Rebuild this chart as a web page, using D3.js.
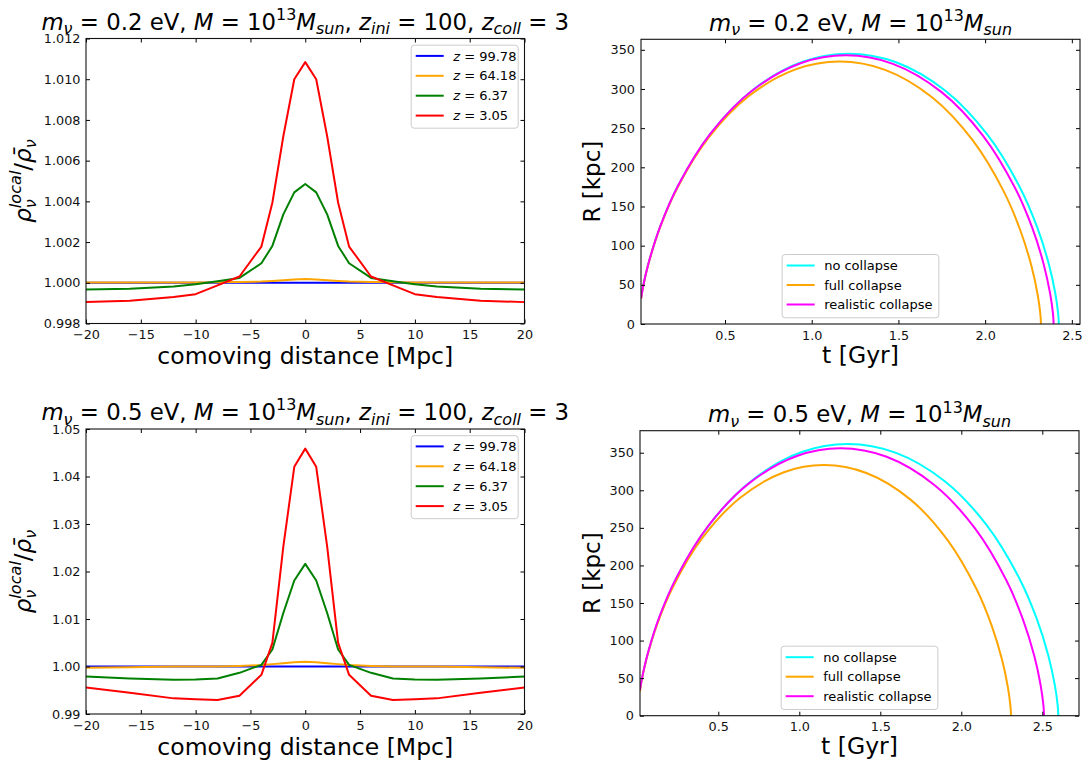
<!DOCTYPE html>
<html>
<head>
<meta charset="utf-8">
<script src="https://cdn.jsdelivr.net/npm/d3@7"></script>
<style>
  body { margin: 0; background: #fff; }
  svg text { white-space: pre; }
</style>
</head>
<body>
<svg id="fig" width="1083" height="760"></svg>
<script>
// ---- data: neutrino overdensity profiles ----
var distX = [-20, -16, -12, -10, -8, -6, -4, -3, -2, -1, 0, 1, 2, 3, 4, 6, 8, 10, 12, 16, 20];
var zLabels = ['99.78', '64.18', '6.37', '3.05'];

// m_nu = 0.2 eV
var rho02_z9978 = [1, 1, 1, 1, 1, 1, 1, 1, 1, 1, 1, 1, 1, 1, 1, 1, 1, 1, 1, 1, 1];
var rho02_z6418 = [1.00001, 1.00001, 1.00002, 1.00002, 1.00003, 1.00004, 1.00006, 1.00009, 1.00012, 1.00016, 1.00019,
                   1.00016, 1.00012, 1.00009, 1.00006, 1.00004, 1.00003, 1.00002, 1.00002, 1.00001, 1.00001];
var rho02_z637 = [0.99967, 0.99971, 0.99982, 0.99993, 1.00008, 1.00024, 1.00096, 1.00181, 1.00336, 1.00444, 1.00485,
                  1.00444, 1.00336, 1.00181, 1.00096, 1.00024, 1.00008, 0.99993, 0.99982, 0.99971, 0.99967];
var rho02_z305 = [0.99905, 0.99912, 0.99930, 0.99944, 0.99987, 1.00031, 1.00178, 1.00393, 1.00720, 1.01000, 1.01084,
                  1.01000, 1.00720, 1.00393, 1.00178, 1.00031, 0.99987, 0.99944, 0.99930, 0.99912, 0.99905];

// m_nu = 0.5 eV
var rho05_z9978 = [1, 1, 1, 1, 1, 1, 1, 1, 1, 1, 1, 1, 1, 1, 1, 1, 1, 1, 1, 1, 1];
var rho05_z6418 = [0.99972, 0.99985, 0.99998, 1.0, 1.0, 1.0001, 1.0003, 1.0005, 1.0007, 1.0009, 1.00098,
                   1.0009, 1.0007, 1.0005, 1.0003, 1.0001, 1.0, 1.0, 0.99998, 0.99985, 0.99972];
var rho05_z637 = [0.9979, 0.99748, 0.9972, 0.99727, 0.99748, 0.99867, 1.00035, 1.00357, 1.01126, 1.01811, 1.02161,
                  1.01811, 1.01126, 1.00357, 1.00035, 0.99867, 0.99748, 0.99727, 0.9972, 0.99748, 0.9979];
var rho05_z305 = [0.99559, 0.99448, 0.99329, 0.99308, 0.99294, 0.99385, 0.99825, 1.00497, 1.02524, 1.04203, 1.04587,
                  1.04203, 1.02524, 1.00497, 0.99825, 0.99385, 0.99294, 0.99308, 0.99329, 0.99448, 0.99559];

// ---- data: halo radius vs time ----
var collapseLabels = ['no collapse', 'full collapse', 'realistic collapse'];

var t02_none = [0.016, 0.0319, 0.0612, 0.1298, 0.2317, 0.4210, 0.6657, 0.9513, 1.2125, 1.4863, 1.7707, 2.0132, 2.2000, 2.2999, 2.3668, 2.4049, 2.4214, 2.425];
var R02_none = [33.1, 52.3, 79.3, 126.4, 177.5, 244.3, 299.7, 335.0, 345.0, 334.1, 297.7, 241.6, 174.6, 123.6, 76.9, 38.7, 12.5, 0];
var t02_full = [0.016, 0.0305, 0.0586, 0.1243, 0.2219, 0.4031, 0.6374, 0.9109, 1.1610, 1.4232, 1.6955, 1.9277, 2.1065, 2.2022, 2.2663, 2.3027, 2.3186, 2.322];
var R02_full = [32.2, 50.8, 77.0, 122.7, 172.4, 237.2, 291.0, 325.3, 335.0, 324.4, 289.1, 234.6, 169.6, 120.0, 74.6, 37.6, 12.2, 0];
var t02_real = [0.016, 0.0315, 0.0604, 0.1282, 0.2289, 0.4158, 0.6574, 0.9396, 1.1975, 1.4679, 1.7488, 1.9883, 2.1727, 2.2714, 2.3375, 2.3751, 2.3915, 2.395];
var R02_real = [32.9, 52.0, 78.8, 125.6, 176.5, 242.9, 298.0, 333.1, 343.0, 332.1, 296.0, 240.2, 173.6, 122.9, 76.4, 38.5, 12.5, 0];

var t05_none = [0.016, 0.0342, 0.0656, 0.1392, 0.2484, 0.4512, 0.7134, 1.0196, 1.2995, 1.5929, 1.8978, 2.1577, 2.3578, 2.4649, 2.5366, 2.5774, 2.5952, 2.599];
var R05_none = [34.7, 54.8, 83.1, 132.5, 186.1, 256.1, 314.1, 351.2, 361.6, 350.1, 312.1, 253.3, 183.0, 129.5, 80.6, 40.6, 13.1, 0];
var t05_full = [0.016, 0.0303, 0.0582, 0.1235, 0.2205, 0.4005, 0.6333, 0.9050, 1.1535, 1.4140, 1.6846, 1.9153, 2.0929, 2.1880, 2.2516, 2.2879, 2.3036, 2.307];
var R05_full = [32.0, 50.6, 76.7, 122.2, 171.7, 236.2, 289.8, 324.0, 333.6, 323.0, 287.9, 233.7, 168.9, 119.5, 74.3, 37.4, 12.1, 0];
var t05_real = [0.016, 0.0330, 0.0634, 0.1344, 0.2400, 0.4359, 0.6893, 0.9851, 1.2555, 1.5390, 1.8335, 2.0846, 2.2780, 2.3814, 2.4507, 2.4902, 2.5073, 2.511];
var R05_real = [34.2, 54.0, 81.8, 130.4, 183.1, 252.0, 309.2, 345.6, 355.9, 344.6, 307.1, 249.3, 180.2, 127.5, 79.3, 39.9, 12.9, 0];

// ---- tick labels ----
var distTicks = [-20, -15, -10, -5, 0, 5, 10, 15, 20];
var rho02Ticks = [0.998, 1.000, 1.002, 1.004, 1.006, 1.008, 1.010, 1.012];
var rho05Ticks = [0.99, 1.00, 1.01, 1.02, 1.03, 1.04, 1.05];
var timeTicks = [0.5, 1.0, 1.5, 2.0, 2.5];
var radiusTicks = [0, 50, 100, 150, 200, 250, 300, 350];

// ---- styles ----
var FONT = "'DejaVu Sans', sans-serif";
var zColors = ['#0000ff', '#ffa500', '#008000', '#ff0000'];
var collapseColors = ['#00ffff', '#ffa500', '#ff00ff'];

var svg = d3.select('#fig').style('font-family', FONT);
var defs = svg.append('defs');
var clipCount = 0;

// draw a row of text pieces (mathtext-like), sub/sup shifted; returns group
function rich(parent, parts, size, x, y, anchor, rotate) {
  var outer = parent.append('g')
    .attr('transform', 'translate(' + x + ',' + y + ')' + (rotate ? ' rotate(' + rotate + ')' : ''));
  var g = outer.append('g');
  var cx = 0, pending = null, holdX = 0;
  parts.forEach(function(p) {
    var fs = p.k ? size * 0.7 : size;
    var dy = p.k === 'sub' ? size * 0.2 : (p.k === 'sup' ? -size * 0.42 : 0);
    var px = pending !== null ? holdX : cx;
    var t = g.append('text')
      .attr('x', px)
      .attr('y', dy)
      .attr('font-size', fs)
      .attr('font-style', p.i ? 'italic' : null)
      .attr('fill', '#000')
      .text(p.t);
    var w = t.node().getComputedTextLength();
    if (p.hold) {
      holdX = cx;
      pending = w;
    } else if (pending !== null) {
      cx = holdX + Math.max(w, pending);
      pending = null;
    } else {
      cx += w;
    }
  });
  if (anchor === 'middle') g.attr('transform', 'translate(' + (-cx / 2) + ',0)');
  return outer;
}

function frameAxes(p, x, y, xTicks, yTicks, xFmt, yFmt, xPad, yPad) {
  var g = svg.append('g');
  var tickLen = 4;
  g.append('g').attr('transform', 'translate(0,' + p.y1 + ')')
    .call(d3.axisBottom(x).tickValues(xTicks).tickFormat(xFmt).tickSize(-tickLen).tickPadding(xPad));
  g.append('g').attr('transform', 'translate(0,' + p.y0 + ')')
    .call(d3.axisTop(x).tickValues(xTicks).tickFormat('').tickSize(-tickLen));
  g.append('g').attr('transform', 'translate(' + p.x0 + ',0)')
    .call(d3.axisLeft(y).tickValues(yTicks).tickFormat(yFmt).tickSize(-tickLen).tickPadding(yPad));
  g.append('g').attr('transform', 'translate(' + p.x1 + ',0)')
    .call(d3.axisRight(y).tickValues(yTicks).tickFormat('').tickSize(-tickLen));
  g.selectAll('.domain').remove();
  g.selectAll('.tick line').attr('stroke', '#000').attr('stroke-width', 1);
  g.selectAll('.tick text').attr('font-family', FONT).attr('font-size', 12.8).attr('fill', '#111');
  g.append('rect')
    .attr('x', p.x0).attr('y', p.y0)
    .attr('width', p.x1 - p.x0).attr('height', p.y1 - p.y0)
    .attr('fill', 'none').attr('stroke', '#111').attr('stroke-width', 1.1);
}

function clipFor(p) {
  var id = 'clip' + (clipCount++);
  defs.append('clipPath').attr('id', id).append('rect')
    .attr('x', p.x0).attr('y', p.y0).attr('width', p.x1 - p.x0).attr('height', p.y1 - p.y0);
  return 'url(#' + id + ')';
}

function legendBox(items, colors, bx, by, w, h, rowTop, rowStep, textParts) {
  var g = svg.append('g');
  g.append('rect')
    .attr('x', bx).attr('y', by).attr('width', w).attr('height', h)
    .attr('rx', 3)
    .attr('fill', '#fff').attr('fill-opacity', 0.8)
    .attr('stroke', '#cccccc').attr('stroke-width', 1);
  items.forEach(function(d, i) {
    var ry = by + rowTop + rowStep * i;
    g.append('line')
      .attr('x1', bx + 4.5).attr('x2', bx + 32.5)
      .attr('y1', ry).attr('y2', ry)
      .attr('stroke', colors[i]).attr('stroke-width', 2);
    rich(g, textParts(d), 13, bx + 42, ry + 4.6, 'start');
  });
}

// ---- left panels: density profiles ----
function densityPanel(p, yDomain, yTicks, yFmt, series, mnu) {
  var x = d3.scaleLinear().domain([-20, 20]).range([p.x0, p.x1]);
  var y = d3.scaleLinear().domain(yDomain).range([p.y1, p.y0]);
  var line = d3.line()
    .x(function(d, i) { return x(distX[i]); })
    .y(function(d) { return y(d); });
  var clip = clipFor(p);
  series.forEach(function(s, i) {
    svg.append('path')
      .attr('d', line(s))
      .attr('clip-path', clip)
      .attr('fill', 'none')
      .attr('stroke', zColors[i])
      .attr('stroke-width', 2)
      .attr('stroke-linejoin', 'round');
  });
  frameAxes(p, x, y, distTicks, yTicks, d3.format('d'), yFmt, 6.5, 5.5);

  legendBox(zLabels, zColors, p.x1 - 6.3 - 107, p.y0 + 6.7, 107, 83, 10.7, 19.9, function(d) {
    return [{ t: 'z', i: true }, { t: ' = ' + d }];
  });

  rich(svg, [
    { t: 'm', i: true }, { t: 'ν', k: 'sub', i: true }, { t: ' = ' + mnu + ' eV, ' },
    { t: 'M', i: true }, { t: ' = 10' }, { t: '13', k: 'sup' }, { t: 'M', i: true }, { t: 'sun', k: 'sub', i: true },
    { t: ', ' }, { t: 'z', i: true }, { t: 'ini', k: 'sub', i: true }, { t: ' = 100, ' },
    { t: 'z', i: true }, { t: 'coll', k: 'sub', i: true }, { t: ' = 3' }
  ], 22.8, (p.x0 + p.x1) / 2, p.y0 - 9, 'middle');

  rich(svg, [{ t: 'comoving distance [Mpc]' }], 23.5, (p.x0 + p.x1) / 2, p.y1 + 40.5, 'middle');

  rich(svg, [
    { t: 'ρ', i: true }, { t: 'local', k: 'sup', i: true, hold: true }, { t: 'ν', k: 'sub', i: true },
    { t: '/' }, { t: 'ρ\u0304', i: true }, { t: 'ν', k: 'sub', i: true }
  ], 23, 31, (p.y0 + p.y1) / 2, 'middle', -90);
}

// ---- right panels: R(t) ----
function radiusPanel(p, xDomain, yDomain, curves, mnu) {
  var x = d3.scaleLinear().domain(xDomain).range([p.x0, p.x1]);
  var y = d3.scaleLinear().domain(yDomain).range([p.y1, p.y0]);
  var clip = clipFor(p);
  curves.forEach(function(c, i) {
    var line = d3.line()
      .x(function(d, j) { return x(c[0][j]); })
      .y(function(d) { return y(d); })
      .curve(d3.curveCatmullRom.alpha(0.5));
    svg.append('path')
      .attr('d', line(c[1]))
      .attr('clip-path', clip)
      .attr('fill', 'none')
      .attr('stroke', collapseColors[i])
      .attr('stroke-width', 2);
  });
  frameAxes(p, x, y, timeTicks, radiusTicks, d3.format('.1f'), d3.format('d'), 6.5, 6);

  var lw = 156.7, lh = 63.3;
  legendBox(collapseLabels, collapseColors, (p.x0 + p.x1) / 2 - lw / 2, p.y1 - 6.2 - lh, lw, lh, 11, 19.5, function(d) {
    return [{ t: d }];
  });

  rich(svg, [
    { t: 'm', i: true }, { t: 'ν', k: 'sub', i: true }, { t: ' = ' + mnu + ' eV, ' },
    { t: 'M', i: true }, { t: ' = 10' }, { t: '13', k: 'sup' }, { t: 'M', i: true }, { t: 'sun', k: 'sub', i: true }
  ], 22.8, (p.x0 + p.x1) / 2, p.y0 - 8.5, 'middle');

  rich(svg, [{ t: 't [Gyr]' }], 23.5, (p.x0 + p.x1) / 2, p.y1 + 38.5, 'middle');
  rich(svg, [{ t: 'R [kpc]' }], 23, 600, (p.y0 + p.y1) / 2, 'middle', -90);
}

densityPanel({ x0: 86, x1: 524.5, y0: 38.5, y1: 323.5 }, [0.998, 1.012], rho02Ticks, d3.format('.3f'),
  [rho02_z9978, rho02_z6418, rho02_z637, rho02_z305], '0.2');
densityPanel({ x0: 86, x1: 524.5, y0: 429, y1: 714 }, [0.99, 1.05], rho05Ticks, d3.format('.2f'),
  [rho05_z9978, rho05_z6418, rho05_z637, rho05_z305], '0.5');

radiusPanel({ x0: 641, x1: 1080, y0: 39.3, y1: 324 }, [0.0156, 2.547], [0, 363.4],
  [[t02_none, R02_none], [t02_full, R02_full], [t02_real, R02_real]], '0.2');
radiusPanel({ x0: 640, x1: 1079, y0: 430.7, y1: 715.7 }, [0.0167, 2.7265], [0, 379.3],
  [[t05_none, R05_none], [t05_full, R05_full], [t05_real, R05_real]], '0.5');
</script>
</body>
</html>
